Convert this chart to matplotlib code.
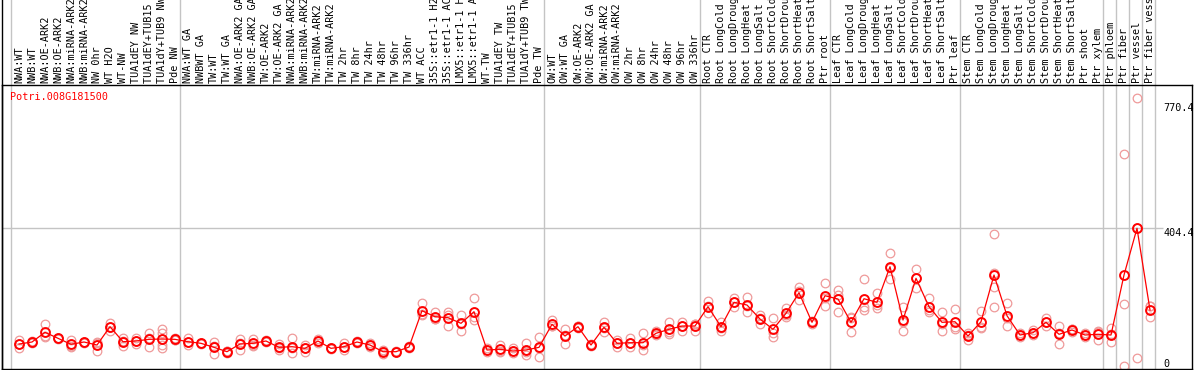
import matplotlib
matplotlib.use("Agg")
import matplotlib.pyplot as plt
from matplotlib.lines import Line2D
from matplotlib import transforms

gene = "Potri.008G181500"

labels = [
    "NWA:WT", "NWB:WT", "NWA:OE-ARK2", "NWB:OE-ARK2", "NWA:miRNA-ARK2", "NWB:miRNA-ARK2",
    "NW 0hr", "WT H2O", "WT-NW", "TUA1dEY NW", "TUA1dEY+TUB15 NW", "TUA1dY+TUB9 NW", "Pde NW",
    "NWA:WT GA", "NWBWT GA", "TW:WT", "TW:WT GA", "NWA:OE-ARK2 GA", "NWB:OE-ARK2 GA",
    "TW:OE-ARK2", "TW:OE-ARK2 GA", "NWA:miRNA-ARK2 GA", "NWB:miRNA-ARK2 GA", "TW:miRNA-ARK2",
    "TW:miRNA-ARK2 GA", "TW 2hr", "TW 8hr", "TW 24hr", "TW 48hr", "TW 96hr", "TW 336hr",
    "WT ACC", "35S::etr1-1 H2O", "35S::etr1-1 ACC", "LMX5::etr1-1 H2O", "LMX5::etr1-1 ACC",
    "WT-TW", "TUA1dEY TW", "TUA1dEY+TUB15 TW", "TUA1dY+TUB9 TW", "Pde TW",
    "OW:WT", "OW:WT GA", "OW:OE-ARK2", "OW:OE-ARK2 GA", "OW:miRNA-ARK2", "OW:miRNA-ARK2 GA",
    "OW 2hr", "OW 8hr", "OW 24hr", "OW 48hr", "OW 96hr", "OW 336hr",
    "Root CTR", "Root LongCold", "Root LongDrought", "Root LongHeat", "Root LongSalt",
    "Root ShortCold", "Root ShortDrought", "Root ShortHeat", "Root ShortSalt", "Ptr root",
    "Leaf CTR", "Leaf LongCold", "Leaf LongDrought", "Leaf LongHeat", "Leaf LongSalt",
    "Leaf ShortCold", "Leaf ShortDrought", "Leaf ShortHeat", "Leaf ShortSalt", "Ptr leaf",
    "Stem CTR", "Stem LongCold", "Stem LongDrought", "Stem LongHeat", "Stem LongSalt",
    "Stem ShortCold", "Stem ShortDrought", "Stem ShortHeat", "Stem ShortSalt", "Ptr shoot",
    "Ptr xylem", "Ptr phloem", "Ptr fiber", "Ptr vessel", "Ptr fiber vessel",
]

# sizes of the sample groups (separated by grey lines)
group_sizes = [13, 28, 12, 10, 10, 11, 1, 1, 1, 1]

means = [
    78.5, 84.2, 111.5, 94.6, 77.7, 84.2, 75.7, 127.3, 85.0, 87.0, 91.7, 92.6, 91.7,
    85.0, 80.5, 69.2, 56.9, 78.5, 80.5, 87.0, 69.2, 71.0, 66.4, 87.0, 66.4, 71.0, 84.2,
    75.7, 56.9, 56.9, 70.1, 172.3, 155.4, 152.6, 136.8, 169.5, 61.7, 63.6, 58.8, 61.7, 69.2,
    134.0, 101.0, 127.3, 75.7, 125.5, 80.5, 82.2, 82.2, 108.7, 119.9, 129.2, 129.2,
    183.6, 127.3, 195.9, 188.3, 148.9, 119.9, 165.0, 223.0, 139.6, 214.5,
    205.2, 139.6, 206.0, 195.9, 296.2, 146.0, 263.5, 183.6, 139.6, 141.3,
    101.0, 141.3, 272.8, 158.2, 103.9, 110.4, 139.6, 105.9, 118.0, 103.9, 105.9,
    103.9, 272.8, 404.4, 174.3,
]

replicates = [
    [89.8, 67.3, 78.4], [86.0, 81.5, 85.1], [134.9, 99.0, 100.6], [96.0, 93.0, 94.8],
    [89.8, 71.0, 72.3], [85.5, 82.0, 85.1], [85.0, 59.7, 82.4], [138.5, 116.0, 127.4],
    [94.6, 72.9, 87.5], [94.6, 78.5, 87.9], [110.4, 69.2, 95.5], [119.9, 108.7, 75.7, 66.1],
    [95.0, 89.0, 91.1],
    [94.6, 75.7, 84.7], [82.0, 79.0, 80.5], [85.0, 50.4, 72.2], [54.0, 58.0, 58.7],
    [91.7, 61.7, 82.1], [92.6, 75.7, 73.2], [89.0, 85.0, 87.0], [78.5, 61.7, 67.4],
    [94.6, 52.3, 66.1], [75.7, 57.0, 66.5], [91.7, 82.2, 87.1], [68.0, 64.0, 67.2],
    [80.0, 61.7, 71.3], [87.0, 81.5, 84.1], [80.5, 71.0, 75.6], [50.4, 58.8, 61.5],
    [56.0, 58.0, 56.7], [72.0, 68.0, 70.3], [194.8, 160.0, 162.1], [169.5, 148.0, 148.7],
    [169.5, 129.2, 159.1], [160.0, 116.0, 134.4], [207.0, 146.0, 155.5], [68.0, 55.0, 62.1],
    [75.7, 56.0, 59.1], [66.0, 52.0, 58.4], [80.5, 47.6, 57.0, 61.7], [99.0, 41.1, 67.5],
    [146.0, 128.0, 128.0], [119.9, 78.5, 104.6], [130.0, 124.0, 127.9], [78.0, 73.0, 76.1],
    [141.3, 112.0, 123.2], [80.5, 71.0, 90.0], [94.6, 71.0, 81.0], [110.4, 61.7, 74.5],
    [116.0, 103.0, 107.1], [141.3, 106.0, 112.4], [141.3, 116.0, 130.3], [136.0, 116.0, 135.6],
    [200.5, 165.0, 185.3], [141.3, 116.0, 124.6], [207.0, 183.0, 197.7], [210.0, 170.0, 184.9],
    [160.0, 136.0, 150.7], [150.9, 99.0, 109.8], [179.0, 155.0, 161.0], [238.0, 203.0, 228.0],
    [136.0, 142.0, 140.8], [249.4, 185.5, 208.6],
    [230.6, 167.8, 217.2], [155.4, 111.5, 151.9], [261.5, 183.6, 172.9], [221.3, 179.0, 187.4],
    [333.9, 261.5, 293.2], [181.9, 115.1, 141.0], [289.7, 235.4, 265.4], [207.2, 169.5, 174.1],
    [167.8, 116.0, 135.0], [177.1, 120.0, 126.8],
    [105.0, 89.8, 108.2], [171.4, 125.0, 127.5], [388.2, 239.9, 183.6, 279.5],
    [193.1, 130.0, 151.5], [109.0, 98.0, 104.7], [117.0, 105.0, 109.2], [151.0, 128.0, 139.8],
    [130.0, 78.5, 109.2], [122.0, 112.0, 120.0], [110.0, 97.0, 104.7], [116.0, 89.0, 112.7],
    [123.0, 83.0, 105.7], [612.6, 191.2, 16.6], [770.4, 403.8, 39.0], [185.0, 153.7, 184.2],
]

axis_values = [770.4, 404.4, 0]
axis_texts = ["770.4", "404.4", "0"]
axis_offsets = [-5, 0, 13]  # pixel offsets of the value labels

W, H = 1194, 370
fig = plt.figure(figsize=(W / 100, H / 100), dpi=100)
ax = fig.add_axes([2 / W, 1 - 369 / H, 1190 / W, 284 / H])
ax.set_xlim((2 - 19) / 13, (1192 - 19) / 13)
ax.set_ylim(8.2, 807.7)
ax.set_xticks([])
ax.set_yticks([])
for s in ax.spines.values():
    s.set_color("black")
    s.set_linewidth(1.0)

mono = "DejaVu Sans Mono"
grey = "#c4c4c4"
pink = "#ef9a9a"
x = list(range(len(labels)))

# group separators, running through the header
start = 0
bounds = [0]
for g in group_sizes:
    start += g
    bounds.append(start)
for b in bounds:
    ax.axvline(b - 0.6, ymin=0, ymax=369 / 284, color=grey, lw=1.0, clip_on=False, zorder=1)

ax.hlines(404.4, ax.get_xlim()[0], 88.0, color=grey, lw=1.0, zorder=1)

# left frame line through the header area
fig.add_artist(Line2D([2 / W, 2 / W], [0, 1], transform=fig.transFigure, color="black", lw=1.0))

for i, reps in enumerate(replicates):
    ax.plot([i] * len(reps), reps, "o", ms=6.2, mfc="none", mec=pink, mew=0.9, zorder=2)

ax.plot(x, means, "-", color="red", lw=0.9, zorder=3)
ax.plot(x, means, "o", ms=6.4, mfc="none", mec="red", mew=1.4, zorder=4)

hdr = transforms.blended_transform_factory(ax.transData, ax.transAxes)
for i, lab in enumerate(labels):
    ax.text(i, 1 + 2 / 284, lab, transform=hdr, rotation=90, ha="center", va="bottom",
            fontsize=7.3, family=mono, color="black", clip_on=False)

for v, t, off in zip(axis_values, axis_texts, axis_offsets):
    tr = transforms.offset_copy(ax.transData, fig=fig, x=0, y=off, units="dots")
    ax.text(88.0, v, t, transform=tr, ha="left", va="top", fontsize=7.3, family=mono)

ax.text(8 / 1190, 1 - 7 / 284, gene, transform=ax.transAxes, ha="left", va="top",
        fontsize=7.3, family=mono, color="red")

fig.savefig("out.png", dpi=100)
